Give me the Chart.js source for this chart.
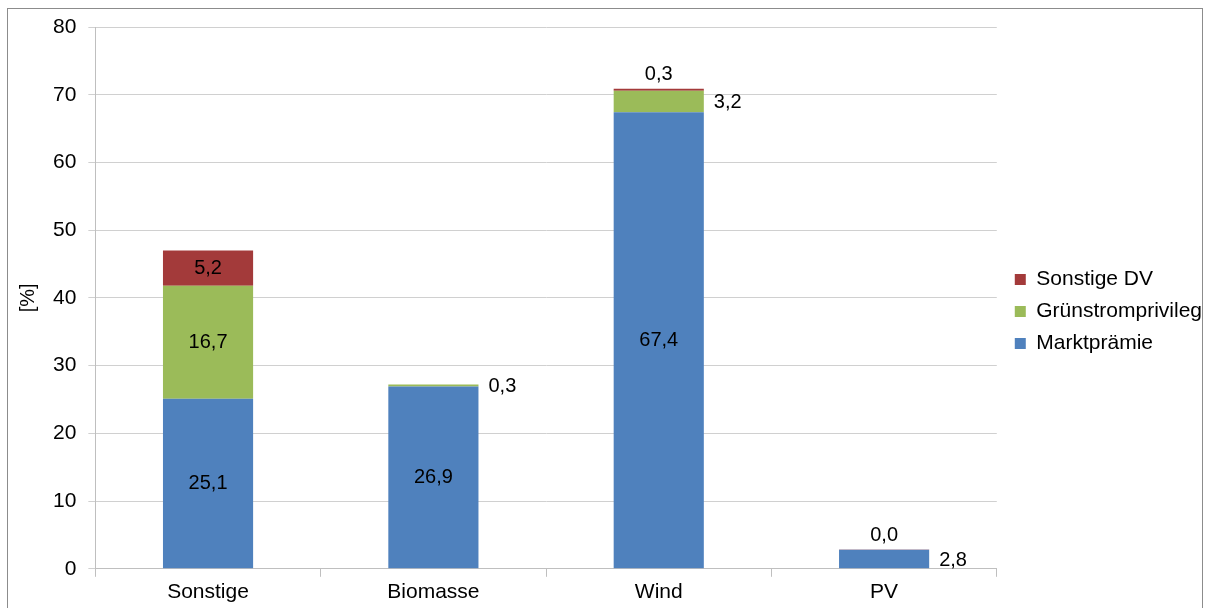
<!DOCTYPE html>
<html>
<head>
<meta charset="utf-8">
<script src="https://cdn.jsdelivr.net/npm/chart.js@4"></script>
<style>
  html, body { margin: 0; padding: 0; background: #fff; }
  #wrap { width: 1205px; height: 608px; position: relative; }
</style>
</head>
<body>
<div id="wrap"><canvas id="chart"></canvas></div>
<script>
'use strict';

const categories = ['Sonstige', 'Biomasse', 'Wind', 'PV'];
const marktpraemie = [25.1, 26.9, 67.4, 2.8];
const gruenstrom = [16.7, 0.3, 3.2, null];
const sonstigeDV = [5.2, null, 0.3, 0.04];
const yTicks = [0, 10, 20, 30, 40, 50, 60, 70, 80];

const FONT = '"Liberation Sans", Arial, sans-serif';

// Excel-style value labels: inside when the segment is tall enough, else beside / above
const valueLabels = {
  id: 'valueLabels',
  afterDatasetsDraw(chart) {
    const ctx = chart.ctx;
    ctx.save();
    ctx.font = '20px ' + FONT;
    ctx.fillStyle = '#000';
    chart.data.datasets.forEach((ds, di) => {
      const meta = chart.getDatasetMeta(di);
      meta.data.forEach((bar, i) => {
        const v = ds.data[i];
        if (v === null || v === undefined) return;
        const text = v.toFixed(1).replace('.', ',');
        const h = Math.abs(bar.base - bar.y);
        if (h > 25) {
          ctx.textAlign = 'center';
          ctx.textBaseline = 'middle';
          ctx.fillText(text, bar.x, (bar.y + bar.base) / 2);
        } else if (ds.label === 'Sonstige DV') {
          ctx.textAlign = 'center';
          ctx.textBaseline = 'bottom';
          ctx.fillText(text, bar.x, bar.y - 4);
        } else {
          ctx.textAlign = 'left';
          ctx.textBaseline = 'middle';
          ctx.fillText(text, bar.x + bar.width / 2 + 10, (bar.y + bar.base) / 2 + 1);
        }
      });
    });
    ctx.restore();
  }
};

// grey frame round the whole chart
const frame = {
  id: 'frame',
  beforeDraw(chart) {
    const ctx = chart.ctx;
    ctx.save();
    ctx.fillStyle = '#fff';
    ctx.fillRect(0, 0, chart.width, chart.height);
    ctx.strokeStyle = '#8c8c8c';
    ctx.lineWidth = 1;
    ctx.strokeRect(7.5, 8.5, chart.width - 10, chart.height + 20);
    ctx.restore();
  }
};

// nudge the legend a little up and right, like the original
const legendNudge = {
  id: 'legendNudge',
  afterLayout(chart) {
    const lg = chart.legend;
    if (!lg) return;
    lg.left += 7; lg.right += 7;
    lg.top -= 6; lg.bottom -= 6;
  }
};

new Chart(document.getElementById('chart'), {
  type: 'bar',
  data: {
    labels: categories,
    datasets: [
      { label: 'Marktprämie', data: marktpraemie, backgroundColor: '#4F81BD' },
      { label: 'Grünstromprivileg', data: gruenstrom, backgroundColor: '#9BBB59' },
      { label: 'Sonstige DV', data: sonstigeDV, backgroundColor: '#A33A3A' }
    ]
  },
  options: {
    responsive: true,
    maintainAspectRatio: false,
    animation: false,
    devicePixelRatio: 1,
    categoryPercentage: 0.8,
    barPercentage: 0.5,
    layout: { padding: { top: 27, left: 12, right: 0, bottom: 0 } },
    plugins: {
      tooltip: { enabled: false },
      legend: {
        position: 'right',
        reverse: true,
        labels: {
          font: { family: FONT, size: 21 },
          color: '#000',
          boxWidth: 11,
          boxHeight: 11,
          padding: 11
        }
      }
    },
    scales: {
      x: {
        stacked: true,
        grid: {
          offset: true,
          drawOnChartArea: false,
          color: '#bfbfbf',
          tickLength: 8
        },
        border: { color: '#bfbfbf' },
        ticks: { font: { family: FONT, size: 21 }, color: '#000', padding: 3 }
      },
      y: {
        stacked: true,
        min: 0,
        max: 80,
        afterBuildTicks(axis) { axis.ticks = yTicks.map(v => ({ value: v })); },
        title: {
          display: true,
          text: '[%]',
          font: { family: FONT, size: 20 },
          color: '#000',
          padding: { bottom: 1 }
        },
        grid: { color: '#d0d0d0', tickLength: 7 },
        border: { color: '#bfbfbf' },
        ticks: { font: { family: FONT, size: 21 }, color: '#000', padding: 12 }
      }
    }
  },
  plugins: [frame, legendNudge, valueLabels]
});
</script>
</body>
</html>
